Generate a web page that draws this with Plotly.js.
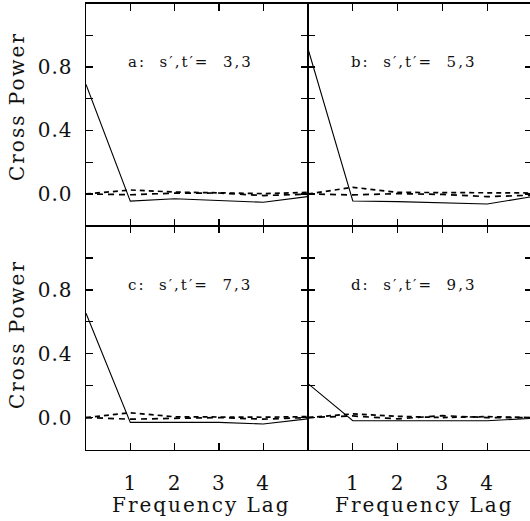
<!DOCTYPE html>
<html>
<head>
<meta charset="utf-8">
<script src="https://cdn.plot.ly/plotly-3.0.1.min.js"></script>
<style>
html,body{margin:0;padding:0;overflow:hidden;background:#fff;width:530px;height:521px;}
#chart{width:534px;height:521px;}
svg text{letter-spacing:2px;}
#chart svg .xtick text, #chart svg .x2tick text, #chart svg .x3tick text, #chart svg .x4tick text,
#chart svg .ytick text, #chart svg .y2tick text, #chart svg .y3tick text, #chart svg .y4tick text{letter-spacing:1px;}
</style>
</head>
<body>
<div id="chart"></div>
<script>
// Data
var lags = [0, 1, 2, 3, 4, 5];

var aSolid = [0.69, -0.045, -0.03, -0.04, -0.052, -0.017];
var aDash1 = [0.0, 0.025, 0.012, 0.008, 0.002, 0.01];
var aDash2 = [0.0, -0.005, 0.005, 0.006, -0.01, -0.002];

var bSolid = [0.915, -0.044, -0.048, -0.055, -0.063, -0.017];
var bDash1 = [0.0, 0.042, 0.01, 0.008, 0.006, 0.006];
var bDash2 = [0.0, -0.006, 0.002, -0.003, -0.017, -0.008];

var cSolid = [0.653, -0.03, -0.03, -0.03, -0.04, -0.008];
var cDash1 = [0.0, 0.03, 0.005, 0.002, 0.002, 0.006];
var cDash2 = [0.0, -0.01, -0.005, 0.0, -0.01, 0.0];

var dSolid = [0.213, -0.019, -0.02, -0.02, -0.02, -0.005];
var dDash1 = [0.0, 0.023, 0.008, 0.0, 0.006, 0.0];
var dDash2 = [0.0, 0.01, -0.008, 0.012, 0.0, 0.0];

var panelLabels = ["a:\u00a0 s\u2032,t\u2032=\u00a0 3,3", "b:\u00a0 s\u2032,t\u2032=\u00a0 5,3",
                   "c:\u00a0 s\u2032,t\u2032=\u00a0 7,3", "d:\u00a0 s\u2032,t\u2032=\u00a0 9,3"];
var xTickVals = [1, 2, 3, 4];
var xTickText = ["1", "2", "3", "4"];
var yTickVals = [-0.2, 0, 0.2, 0.4, 0.6, 0.8, 1.0, 1.2];
var yTickText = ["", "0.0", "", "0.4", "", "0.8", "", ""];
var xTitle = "Frequency Lag";
var yTitle = "Cross Power";

var FONT = "DejaVu Serif, Liberation Serif, serif";
var W = 534, H = 521;

var panels = [
  {solid: aSolid, d1: aDash1, d2: aDash2, xa: "x", ya: "y"},
  {solid: bSolid, d1: bDash1, d2: bDash2, xa: "x2", ya: "y2"},
  {solid: cSolid, d1: cDash1, d2: cDash2, xa: "x3", ya: "y3"},
  {solid: dSolid, d1: dDash1, d2: dDash2, xa: "x4", ya: "y4"}
];

var traces = [];
panels.forEach(function(p){
  traces.push({x: lags, y: p.d1, xaxis: p.xa, yaxis: p.ya, mode: "lines",
    line: {color: "#000", width: 1.7, dash: "5px,4px"}, hoverinfo: "skip"});
  traces.push({x: lags, y: p.d2, xaxis: p.xa, yaxis: p.ya, mode: "lines",
    line: {color: "#000", width: 1.7, dash: "6px,5px"}, hoverinfo: "skip"});
  traces.push({x: lags, y: p.solid, xaxis: p.xa, yaxis: p.ya, mode: "lines",
    line: {color: "#000", width: 1.1}, hoverinfo: "skip"});
});

function px2fx(px){ return px / W; }
function py2fy(py){ return 1 - py / H; }

var xLeft = [px2fx(86), px2fx(307.5)];
var xRight = [px2fx(308), px2fx(532)];
var yTop = [py2fy(225.7), py2fy(3.5)];
var yBot = [py2fy(449.5), py2fy(226)];

function xAxis(domain, anchor, labels){
  return {domain: domain, anchor: anchor, range: [0, 5], tickmode: "array",
    tickvals: xTickVals, ticktext: xTickText, ticks: "inside", ticklen: 7, tickwidth: 1.3,
    tickcolor: "#000", showline: true, linecolor: "#000", linewidth: 1.5, mirror: "ticks",
    showgrid: false, zeroline: false, showticklabels: labels,
    tickfont: {family: FONT, size: 20, color: "#111"}, ticklabelstandoff: 15};
}
function yAxis(domain, anchor, labels){
  return {domain: domain, anchor: anchor, range: [-0.2, 1.2], tickmode: "array",
    tickvals: yTickVals, ticktext: yTickText, ticks: "inside", ticklen: 7, tickwidth: 1.3,
    tickcolor: "#000", showline: true, linecolor: "#000", linewidth: 1.5, mirror: "ticks",
    showgrid: false, zeroline: false, showticklabels: labels,
    tickfont: {family: FONT, size: 20, color: "#111"}, ticklabelstandoff: 8};
}

var titleFont = {family: FONT, size: 20, color: "#111"};
var annotations = [
  {xref: "x", yref: "y", text: panelLabels[0]},
  {xref: "x2", yref: "y2", text: panelLabels[1]},
  {xref: "x3", yref: "y3", text: panelLabels[2]},
  {xref: "x4", yref: "y4", text: panelLabels[3]}
].map(function(a){
  a.x = 0.91; a.y = 0.83; a.xanchor = "left"; a.yanchor = "middle"; a.showarrow = false;
  a.font = {family: FONT, size: 15, color: "#111"};
  return a;
});
// axis titles
annotations.push({xref: "paper", yref: "paper", x: px2fx(17), y: py2fy(107), text: yTitle,
  textangle: -90, showarrow: false, xanchor: "center", yanchor: "middle", font: titleFont, borderpad: 0});
annotations.push({xref: "paper", yref: "paper", x: px2fx(17), y: py2fy(335), text: yTitle,
  textangle: -90, showarrow: false, xanchor: "center", yanchor: "middle", font: titleFont, borderpad: 0});
annotations.push({xref: "paper", yref: "paper", x: px2fx(201), y: py2fy(505), text: xTitle,
  showarrow: false, xanchor: "center", yanchor: "middle", font: titleFont, borderpad: 0});
annotations.push({xref: "paper", yref: "paper", x: px2fx(425), y: py2fy(505), text: xTitle,
  showarrow: false, xanchor: "center", yanchor: "middle", font: titleFont, borderpad: 0});

var layout = {
  width: W, height: H,
  margin: {l: 0, r: 0, t: 0, b: 0, pad: 0},
  paper_bgcolor: "#fff", plot_bgcolor: "#fff",
  showlegend: false,
  xaxis: xAxis(xLeft, "y", false),
  yaxis: yAxis(yTop, "x", true),
  xaxis2: xAxis(xRight, "y2", false),
  yaxis2: yAxis(yTop, "x2", false),
  xaxis3: xAxis(xLeft, "y3", true),
  yaxis3: yAxis(yBot, "x3", true),
  xaxis4: xAxis(xRight, "y4", true),
  yaxis4: yAxis(yBot, "x4", false),
  annotations: annotations
};

Plotly.newPlot("chart", traces, layout, {staticPlot: true, displayModeBar: false});
</script>
</body>
</html>
